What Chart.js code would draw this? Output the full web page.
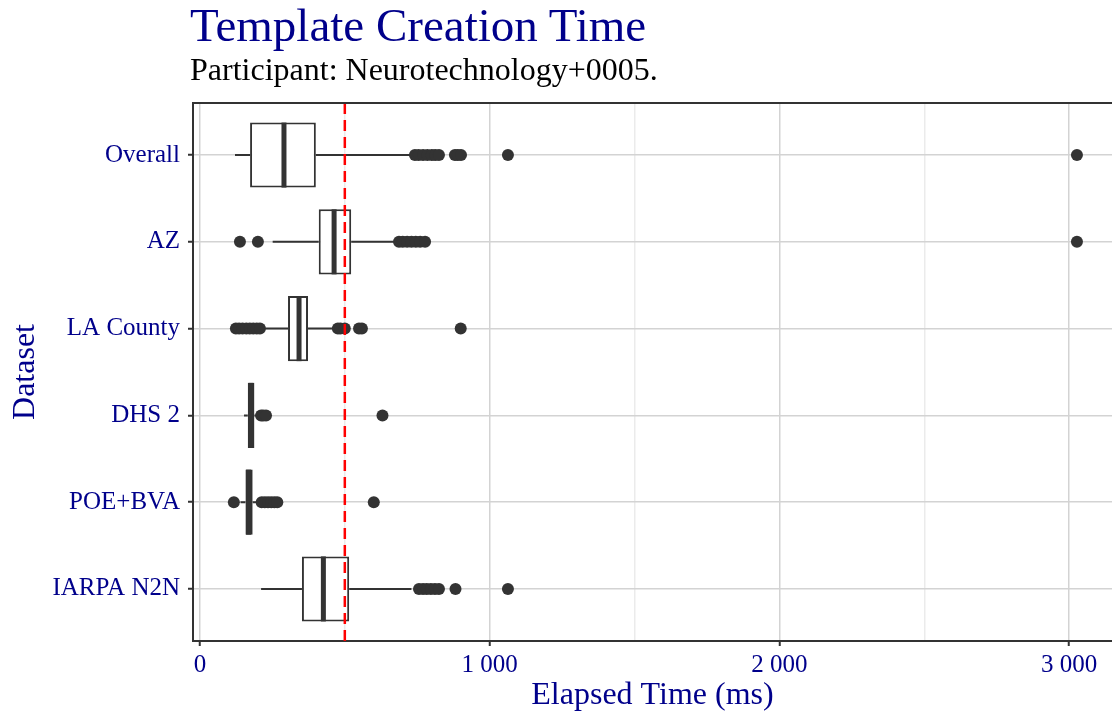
<!DOCTYPE html>
<html lang="en">
<head>
    <meta charset="UTF-8">
    <title>Template Creation Time</title>
    <script src="https://cdn.jsdelivr.net/npm/chart.js@4.4.1/dist/chart.umd.min.js"></script>
    <style>
        body {
            margin: 0;
            background: #fff;
            font-family: 'Liberation Serif', serif;
        }
        .wrap {
            position: relative;
            width: 1112px;
            height: 715px;
            overflow: hidden;
        }
        #title {
            position: absolute;
            left: 190px;
            top: 2px;
            font-size: 47px;
            line-height: 1;
            color: #00008B;
            white-space: nowrap;
        }
        #subtitle {
            position: absolute;
            left: 190px;
            top: 53px;
            font-size: 32px;
            line-height: 1;
            color: #000;
            white-space: nowrap;
        }
        canvas {
            position: absolute;
            left: 0;
            top: 0;
        }
    </style>
</head>
<body>

<div class="wrap">
    <canvas id="boxChart" width="1112" height="715"></canvas>
    <div id="title">Template Creation Time</div>
    <div id="subtitle">Participant: Neurotechnology+0005.</div>
</div>

<script>
// datasets, top to bottom
const categories = ['Overall', 'AZ', 'LA County', 'DHS 2', 'POE+BVA', 'IARPA N2N'];

// box stats (ms)
const whiskerLow  = [121, 251, 215, 152, 140, 211];
const q1          = [173, 410, 304, 165, 157, 352];
const median      = [290, 463, 342, 176, 168, 426];
const q3          = [400, 522, 373, 188, 182, 515];
const whiskerHigh = [730, 675, 465, 200, 195, 730];

// outlier points per dataset
const outliers = [
    [742, 755, 770, 785, 800, 812, 825, 880, 890, 901, 1063, 3027],
    [138, 200, 687, 700, 715, 730, 745, 760, 777, 3027],
    [124, 135, 147, 160, 172, 184, 196, 207, 476, 485, 500, 549, 559, 900],
    [211, 218, 228, 630],
    [117, 213, 224, 235, 246, 257, 267, 600],
    [756, 770, 783, 797, 811, 825, 882, 1063]
];

const xTicks = [0, 1000, 2000, 3000];
const xMinorTicks = [500, 1500, 2500];
const threshold = 500;   // red dashed line

const textBlue = '#00008B';
const ink = '#333333';

function fmtThousands(v) {
    return String(v).replace(/\B(?=(\d{3})+(?!\d))/g, ' ');
}

function isMajor(c) {
    return !!(c.tick && xTicks.includes(c.tick.value));
}

const boxData = categories.map((c, i) => ({ x: [q1[i], q3[i]], y: i }));
const pointData = [];
outliers.forEach((list, i) => list.forEach(v => pointData.push({ x: v, y: i })));

// whiskers, medians, threshold line, top border
const boxExtras = {
    id: 'boxExtras',
    beforeDatasetsDraw(chart) {
        const ctx = chart.ctx;
        const xs = chart.scales.x, ys = chart.scales.y;
        ctx.save();
        ctx.strokeStyle = ink;
        ctx.lineWidth = 2;
        categories.forEach((c, i) => {
            const y = ys.getPixelForValue(i);
            ctx.beginPath();
            ctx.moveTo(xs.getPixelForValue(whiskerLow[i]), y);
            ctx.lineTo(xs.getPixelForValue(q1[i]), y);
            ctx.moveTo(xs.getPixelForValue(q3[i]), y);
            ctx.lineTo(xs.getPixelForValue(whiskerHigh[i]), y);
            ctx.stroke();
        });
        ctx.restore();
    },
    afterDatasetsDraw(chart) {
        const ctx = chart.ctx;
        const xs = chart.scales.x, ys = chart.scales.y;
        const area = chart.chartArea;
        const bars = chart.getDatasetMeta(0).data;
        ctx.save();
        ctx.strokeStyle = ink;
        ctx.lineWidth = 5;
        categories.forEach((c, i) => {
            const y = ys.getPixelForValue(i);
            const h = bars[i].height / 2;
            const x = xs.getPixelForValue(median[i]);
            ctx.beginPath();
            ctx.moveTo(x, y - h);
            ctx.lineTo(x, y + h);
            ctx.stroke();
        });
        // threshold
        const tx = xs.getPixelForValue(threshold);
        ctx.strokeStyle = '#FF0000';
        ctx.lineWidth = 2.5;
        ctx.setLineDash([11, 6]);
        ctx.beginPath();
        ctx.moveTo(tx, area.top);
        ctx.lineTo(tx, area.bottom);
        ctx.stroke();
        ctx.restore();
    },
    afterDraw(chart) {
        const ctx = chart.ctx;
        const area = chart.chartArea;
        ctx.save();
        ctx.strokeStyle = ink;
        ctx.lineWidth = 2;
        ctx.beginPath();
        ctx.moveTo(area.left - 1, area.top);
        ctx.lineTo(area.right, area.top);
        ctx.stroke();
        ctx.restore();
    }
};

const ctx = document.getElementById('boxChart').getContext('2d');
new Chart(ctx, {
    type: 'bar',
    data: {
        datasets: [{
            type: 'bar',
            data: boxData,
            backgroundColor: '#FFFFFF',
            borderColor: ink,
            borderWidth: 2,
            borderSkipped: false,
            barPercentage: 0.75,
            categoryPercentage: 1.0
        }, {
            type: 'scatter',
            data: pointData,
            pointRadius: 6,
            pointHoverRadius: 6,
            pointBackgroundColor: ink,
            pointBorderWidth: 0
        }]
    },
    options: {
        indexAxis: 'y',
        responsive: false,
        animation: false,
        layout: { autoPadding: false, padding: { top: 103, right: 0, bottom: 0, left: 0 } },
        plugins: {
            legend: { display: false },
            tooltip: { enabled: false }
        },
        scales: {
            x: {
                type: 'linear',
                position: 'bottom',
                offset: false,
                beginAtZero: false,
                min: -24,
                max: 3148,
                afterBuildTicks(scale) {
                    scale.ticks = xTicks.concat(xMinorTicks).sort((a, b) => a - b).map(v => ({ value: v }));
                },
                afterFit(scale) { scale.height = 74; },
                ticks: {
                    color: textBlue,
                    font: { family: 'Liberation Serif', size: 25 },
                    padding: 4,
                    maxRotation: 0,
                    autoSkip: false,
                    callback: v => xTicks.includes(v) ? fmtThousands(v) : ''
                },
                grid: {
                    offset: false,
                    color: c => isMajor(c) ? '#D3D3D3' : '#EBEBEB',
                    lineWidth: 1.5,
                    tickLength: 5,
                    tickWidth: 2,
                    tickColor: c => isMajor(c) ? ink : 'rgba(0,0,0,0)'
                },
                border: { color: ink, width: 2 },
                title: {
                    display: true,
                    text: 'Elapsed Time (ms)',
                    color: textBlue,
                    font: { family: 'Liberation Serif', size: 32 },
                    padding: { top: 0, bottom: 0 }
                }
            },
            y: {
                type: 'linear',
                position: 'left',
                offset: false,
                beginAtZero: false,
                reverse: true,
                min: -0.6,
                max: 5.6,
                afterBuildTicks(scale) {
                    scale.ticks = categories.map((c, i) => ({ value: i }));
                },
                afterFit(scale) { scale.width = 193; },
                ticks: {
                    color: textBlue,
                    font: { family: 'Liberation Serif', size: 25 },
                    padding: 8,
                    autoSkip: false,
                    callback: v => categories[v]
                },
                grid: {
                    offset: false,
                    color: '#D3D3D3',
                    lineWidth: 1.5,
                    tickLength: 5,
                    tickWidth: 2,
                    tickColor: ink
                },
                border: { color: ink, width: 2 },
                title: {
                    display: true,
                    text: 'Dataset',
                    color: textBlue,
                    font: { family: 'Liberation Serif', size: 32 },
                    padding: { top: 6, bottom: 0 }
                }
            }
        }
    },
    plugins: [boxExtras]
});
</script>

</body>
</html>
